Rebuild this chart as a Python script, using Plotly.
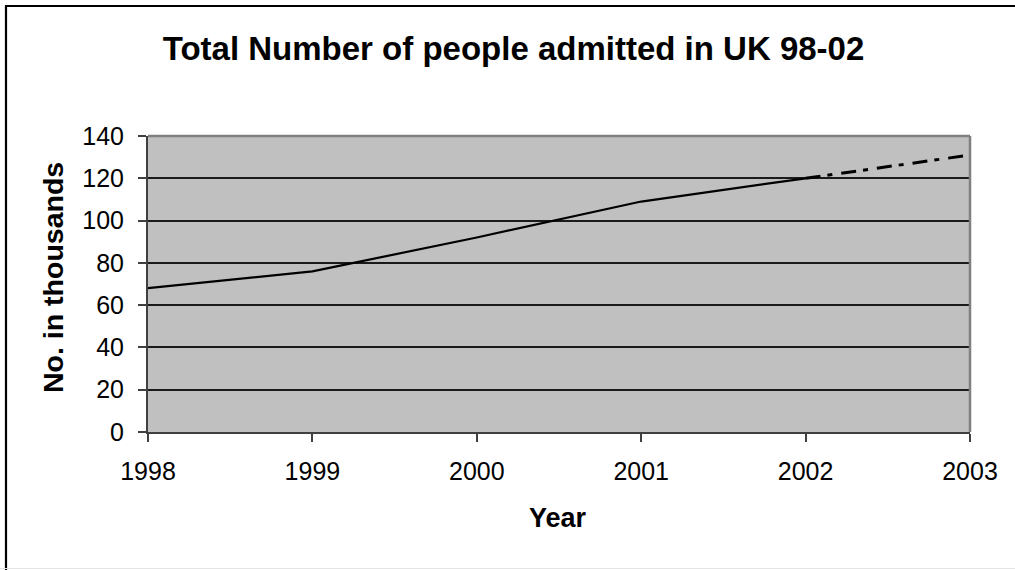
import plotly.graph_objects as go

years_actual = [1998, 1999, 2000, 2001, 2002]
values_actual = [68, 76, 92, 109, 120]
years_proj = [2002, 2003]
values_proj = [120, 131]
y_ticks = [0, 20, 40, 60, 80, 100, 120, 140]
x_ticks = [1998, 1999, 2000, 2001, 2002, 2003]

FONT = "Liberation Sans, Arial, sans-serif"
W, H = 1015, 570
L, R, T, B = 148, 45, 136, 138
PW, PH = W - L - R, H - T - B


def px(x):
    return (x - L) / PW


def py(y):
    return (H - B - y) / PH


fig = go.Figure()
fig.add_trace(go.Scatter(x=years_actual, y=values_actual, mode="lines",
                         line=dict(color="black", width=2.2), showlegend=False,
                         hoverinfo="skip"))
fig.add_trace(go.Scatter(x=years_proj, y=values_proj, mode="lines",
                         line=dict(color="black", width=3, dash="15px,7px,5px,9px"),
                         showlegend=False, hoverinfo="skip"))

shapes = [
    # plot area top and right gray border
    dict(type="line", xref="paper", yref="paper", x0=0, x1=1, y0=1, y1=1,
         line=dict(color="#808080", width=2.5), layer="above"),
    dict(type="line", xref="paper", yref="paper", x0=1, x1=1, y0=0, y1=1,
         line=dict(color="#808080", width=2.5), layer="above"),
    # outer frame
    dict(type="rect", xref="paper", yref="paper", x0=px(6), x1=px(1030),
         y0=py(585), y1=py(6), line=dict(color="black", width=2.2)),
    dict(type="line", xref="paper", yref="paper", x0=px(0), x1=px(1015),
         y0=py(568.5), y1=py(568.5), line=dict(color="#e4e4e4", width=1)),
]

annotations = [
    dict(text="<b>No. in thousands</b>", xref="paper", yref="paper",
         x=px(53), y=py(278), textangle=-90, showarrow=False,
         xanchor="center", yanchor="middle",
         font=dict(family=FONT, size=28.5, color="black")),
    dict(text="<b>Year</b>", xref="paper", yref="paper",
         x=px(558), y=py(518), showarrow=False, xanchor="center", yanchor="middle",
         font=dict(family=FONT, size=27, color="black")),
]

fig.update_layout(
    width=W, height=H,
    margin=dict(l=L, r=R, t=T, b=B, pad=0),
    paper_bgcolor="white",
    plot_bgcolor="#C0C0C0",
    title=dict(text="<b>Total Number of people admitted in UK 98-02</b>",
               x=513.5 / W, xref="container", xanchor="center",
               y=1 - 48 / H, yref="container", yanchor="middle",
               font=dict(family=FONT, size=33, color="black")),
    shapes=shapes,
    annotations=annotations,
    showlegend=False,
)
fig.update_xaxes(range=[1998, 2003], tickvals=x_ticks, ticktext=[str(v) for v in x_ticks],
                 showgrid=False, zeroline=False, showline=True, linecolor="#404040",
                 linewidth=2, ticks="outside", ticklen=8, tickwidth=1.5,
                 tickcolor="#404040", ticklabelstandoff=8,
                 tickfont=dict(family=FONT, size=25, color="black"))
fig.update_yaxes(range=[0, 140], tickvals=y_ticks, ticktext=[str(v) for v in y_ticks],
                 showgrid=True, gridcolor="#1a1a1a", gridwidth=1.5, zeroline=False,
                 showline=True, linecolor="#404040", linewidth=2, ticks="outside",
                 ticklen=8, tickwidth=1.5, tickcolor="#404040", ticklabelstandoff=9,
                 tickfont=dict(family=FONT, size=25, color="black"))

fig.write_html("out.html")
